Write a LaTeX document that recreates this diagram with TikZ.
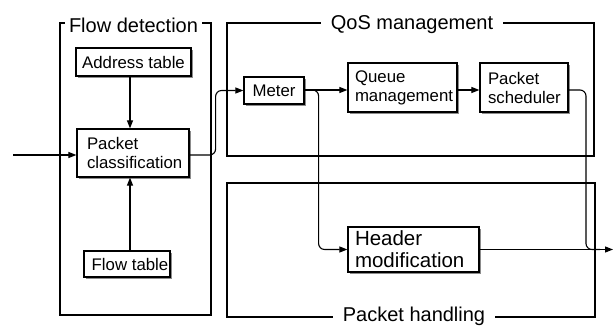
\documentclass[tikz,border=0pt]{standalone}
\usepackage{fontspec}
\setmainfont{Liberation Sans}
\usetikzlibrary{arrows.meta,shadows}
\newcommand\unitfont{\fontsize{16.8}{19}\selectfont}
\newcommand\bigunitfont{\fontsize{20.5}{22}\selectfont}
\newcommand\groupfont{\fontsize{20}{22}\selectfont}
\begin{document}
\begin{tikzpicture}[x=1pt,y=-1pt,
  group/.style={draw, line width=1.1pt},
  grouptitle/.style={fill=white, font=\groupfont, inner ysep=1pt, anchor=base},
  unit/.style={draw, fill=white, line width=1.2pt, inner ysep=0pt,
    font=\unitfont,
    drop shadow={shadow xshift=2pt, shadow yshift=-2pt, fill=black!45, opacity=1}},
  multi/.style={unit, align=left},
  single/.style={unit, inner xsep=0pt},
  link/.style={line width=1.1pt, rounded corners=6pt},
  arr/.style={link, -{Triangle[length=8pt,width=6pt]}}]
\useasboundingbox (0,0) rectangle (614,325);

% group frames
\draw[group] (60,23) rectangle (211,315);
\draw[group] (227,23) rectangle (594,156);
\draw[group] (227,183) rectangle (595,317);
\node[grouptitle, inner xsep=4pt] (tflow) at (133.5,32) {Flow detection};
\node[grouptitle, inner xsep=10pt] (tqos) at (412,29) {QoS management};
\node[grouptitle, inner xsep=10pt] (thand) at (414,321) {Packet handling};

% functional units
\node[single, minimum width=115pt, minimum height=28pt] (addr) at (133.5,62) {Address table};
\node[multi, text width=92pt, inner xsep=10pt, minimum height=48pt] (pc) at (133,153) {Packet\\classification};
\node[single, minimum width=86pt, minimum height=26pt] (flow) at (127,264) {\hspace*{6pt}Flow table};
\node[single, minimum width=60pt, minimum height=27pt] (meter) at (274,90.5) {Meter};
\node[multi, text width=95pt, inner xsep=7pt, minimum height=49pt] (queue) at (402.5,87.5) {Queue\\management};
\node[multi, text width=72pt, inner xsep=8pt, minimum height=49pt] (sched) at (524,87.5) {Packet\\scheduler};
\node[multi, font=\bigunitfont, text width=117pt, inner xsep=7pt, minimum height=45pt] (hdr) at (413.5,249.5) {Header\\modification};

% connectors
\coordinate (in) at (13,155);
\coordinate (out) at (613,249.5);
\draw[arr] (in) -- (in -| pc.west);
\draw[arr] (addr.south -| 130,0) -- (pc.north -| 130,0);
\draw[arr] (flow.north -| 130,0) -- (pc.south -| 130,0);
\draw[arr] (pc.east |- in) -- ++(26,0) |- (meter.west);
\draw[arr] (meter.east |- 0,90) -- (queue.west |- 0,90);
\draw[arr] (queue.east |- 0,90) -- (sched.west |- 0,90);
\draw[arr] (meter.east |- 0,90) -- ++(14,0) |- (hdr.west);
\draw[arr] (hdr.east) -- (out);
\draw[link] (sched.east |- 0,90) -- (586,90) -- (586,249.5) -- (600,249.5);
\end{tikzpicture}
\end{document}
